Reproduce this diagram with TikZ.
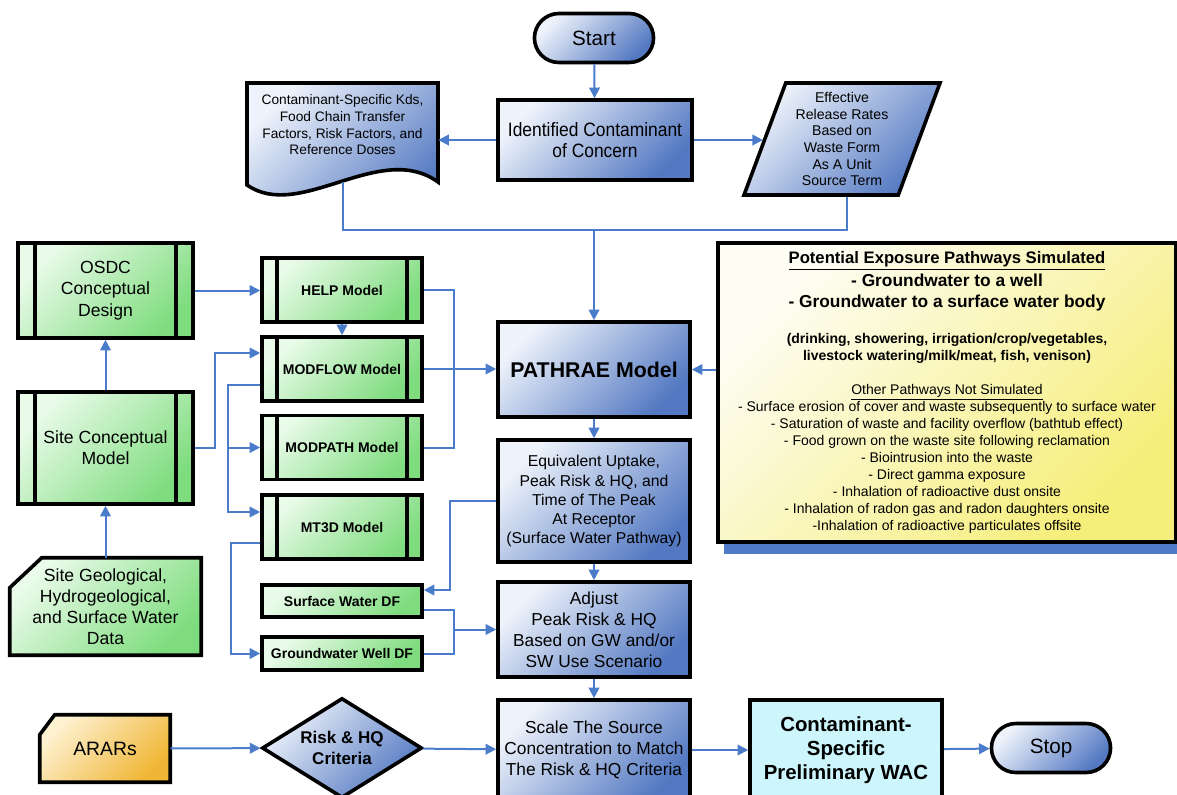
\documentclass[tikz,border=0pt]{standalone}
\usepackage{fontspec}
\setmainfont{Liberation Sans}
\newfontfamily\narrowfont[FakeStretch=0.9]{Liberation Sans}
\usetikzlibrary{arrows.meta,shapes.geometric,shapes.misc,backgrounds}

\definecolor{lineblue}{HTML}{4A7CC9}
\definecolor{blueL}{HTML}{EEF3FB}
\definecolor{blueD}{HTML}{5479C2}
\definecolor{greenL}{HTML}{EAFBEA}
\definecolor{greenD}{HTML}{7EDC7E}
\definecolor{yellowL}{HTML}{FDFDF4}
\definecolor{yellowD}{HTML}{F6EE7A}
\definecolor{orangeL}{HTML}{FDF2D2}
\definecolor{orangeD}{HTML}{F0B535}
\definecolor{wacfill}{HTML}{CCF6FB}
\definecolor{shadowblue}{HTML}{4F7BC8}

\tikzset{
  outline/.style={draw=black,line width=2.7pt},
  bluebox/.style={outline,top color=blueL,bottom color=blueD,shading angle=45},
  greenbox/.style={outline,top color=greenL,bottom color=greenD,shading angle=45},
  procbox/.style={greenbox,rectangle,inner sep=2pt,align=center,
    path picture={
      \draw[line width=2.5pt] ([xshift=#1]path picture bounding box.north west) -- ([xshift=#1]path picture bounding box.south west);
      \draw[line width=2.5pt] ([xshift=-#1]path picture bounding box.north east) -- ([xshift=-#1]path picture bounding box.south east);}},
  procbox/.default=12pt,
  modelbox/.style={procbox=11.25pt,minimum width=120pt,minimum height=48pt,font=\fontsize{10.5}{12.6}\selectfont\bfseries},
  dfbox/.style={greenbox,minimum width=120pt,inner sep=1pt,font=\fontsize{10.5}{12.6}\selectfont\bfseries},
  midbox/.style={bluebox,minimum width=144pt,inner sep=2pt,align=center},
  term/.style={rounded rectangle,bluebox,minimum width=96pt,minimum height=36.75pt,font=\fontsize{15.5}{18}\selectfont},
  conn/.style={draw=lineblue,line width=1.5pt},
  arr/.style={conn,-{Triangle[length=8pt,width=8pt]}}
}

\begin{document}
\begin{tikzpicture}[x=0.75pt,y=-0.75pt]
  \useasboundingbox (0,0) rectangle (1177,794);

  \node[term] (start) at (594,38) {Start};
  \node[bluebox,minimum width=145.5pt,minimum height=60pt,align=center,font={\fontsize{14.5}{15.75}\narrowfont}] (coc) at (595,140) {Identified Contaminant\\of Concern};
  \node[align=center,minimum width=143.25pt,minimum height=63pt,font=\fontsize{10.3}{12.5}\selectfont] (kds) at (342.5,125) {Contaminant-Specific Kds,\\Food Chain Transfer\\Factors, Risk Factors, and\\Reference Doses};
  \node[trapezium,trapezium left angle=66,trapezium right angle=114,trapezium stretches body,bluebox,minimum width=147pt,minimum height=84pt,inner sep=0pt,align=center,font=\fontsize{10.6}{12.5}\selectfont] (rates) at (842,139) {Effective\\Release Rates\\Based on\\Waste Form\\As A Unit\\Source Term};

  \node[procbox=12.75pt,minimum width=131.25pt,minimum height=71.25pt,font=\fontsize{13.2}{16}\selectfont] (osdc) at (105.5,290.5) {OSDC\\Conceptual\\Design};
  \node[procbox=12.75pt,minimum width=131.25pt,minimum height=84pt,font=\fontsize{13.2}{16}\selectfont] (scm) at (105.5,448) {Site Conceptual\\Model};
  \node[align=center,minimum width=143.25pt,minimum height=72.75pt,font=\fontsize{13.2}{15.75}\selectfont] (geo) at (105.5,606.5) {Site Geological,\\Hydrogeological,\\and Surface Water\\Data};

  \node[modelbox] (help) at (342,290) {HELP Model};
  \node[modelbox] (modflow) at (342,369) {MODFLOW Model};
  \node[modelbox] (modpath) at (342,447.5) {MODPATH Model};
  \node[modelbox] (mt3d) at (342,527) {MT3D Model};
  \node[dfbox,minimum height=24pt] (swdf) at (342,601) {Surface Water DF};
  \node[dfbox,minimum height=24.75pt] (gwdf) at (342,653.5) {Groundwater Well DF};

  \node[midbox,minimum height=71.25pt,font=\fontsize{16}{19}\selectfont\bfseries] (pathrae) at (594,369.5) {PATHRAE Model};
  \node[midbox,minimum height=91.5pt,font=\fontsize{11.8}{14.3}\selectfont] (equiv) at (594,501) {Equivalent Uptake,\\Peak Risk \& HQ, and\\Time of The Peak\\At Receptor\\(Surface Water Pathway)};
  \node[midbox,minimum height=71.25pt,font=\fontsize{13}{15.8}\selectfont] (adjust) at (594,629.5) {Adjust\\Peak Risk \& HQ\\Based on GW and/or\\SW Use Scenario};
  \node[midbox,minimum height=75pt,font=\fontsize{13}{15.5}\selectfont] (scale) at (594,750) {Scale The Source\\Concentration to Match\\The Risk \& HQ Criteria};

  \node[outline,top color=yellowL,bottom color=yellowD,shading angle=45,minimum width=343.5pt,minimum height=224.25pt,align=center,font=\fontsize{10.5}{12.7}\selectfont] (pathways) at (947,392.5) {%
    {\fontsize{12.5}{15}\selectfont\bfseries\underline{Potential Exposure Pathways Simulated}}\\[2.3pt]
    {\fontsize{13}{15}\selectfont\bfseries - Groundwater to a well}\\[3pt]
    {\fontsize{13}{15}\selectfont\bfseries - Groundwater to a surface water body}\\[14.3pt]
    {\bfseries (drinking, showering, irrigation/crop/vegetables,}\\
    {\bfseries livestock watering/milk/meat, fish, venison)}\\[12.8pt]
    \underline{Other Pathways Not Simulated}\\
    - Surface erosion of cover and waste subsequently to surface water\\
    - Saturation of waste and facility overflow (bathtub effect)\\
    - Food grown on the waste site following reclamation\\
    - Biointrusion into the waste\\
    - Direct gamma exposure\\
    - Inhalation of radioactive dust onsite\\
    - Inhalation of radon gas and radon daughters onsite\\
    -Inhalation of radioactive particulates offsite};

  \node[align=center,minimum width=97.5pt,minimum height=50.25pt,font=\fontsize{14.5}{17}\selectfont] (arars) at (105,748.5) {ARARs};
  \node[diamond,aspect=1.6,bluebox,minimum width=120pt,minimum height=75pt,inner sep=0pt,align=center,font=\fontsize{12.75}{16}\selectfont\bfseries] (crit) at (342,748) {Risk \& HQ\\Criteria};
  \node[outline,fill=wacfill,minimum width=144pt,minimum height=75pt,align=center,font=\fontsize{15.3}{18}\selectfont\bfseries] (wac) at (846,750) {Contaminant-\\Specific\\Preliminary WAC};
  \node[term] (stop) at (1051,748) {Stop};

  \begin{scope}[on background layer]
    \fill[shadowblue] ([xshift=6pt,yshift=-7.5pt]pathways.south west) rectangle ([xshift=6pt,yshift=-7.5pt]pathways.north east);
    \path[bluebox] (247,83) -- (247,185) .. controls (300,222) and (380,140) .. (438,182) -- (438,83) -- cycle;
    \path[greenbox] ([yshift=-22.5pt]geo.north west) -- ([xshift=24pt]geo.north west) -- (geo.north east) -- (geo.south east) -- (geo.south west) -- cycle;
    \path[outline,top color=orangeL,bottom color=orangeD,shading angle=45] ([yshift=-15pt]arars.north west) -- ([xshift=11.25pt]arars.north west) -- (arars.north east) -- (arars.south east) -- (arars.south west) -- cycle;
  \end{scope}

  \coordinate (kdsfoot) at (343,182);
  \coordinate (merge) at (594,230);

  \draw[arr] (start) -- (coc);
  \draw[arr] (coc.west) -- (coc.west -| kds.east);
  \draw[arr] (coc.east) -- (coc.east -| rates.west);
  \draw[conn] (kdsfoot) |- (merge) -| ([xshift=3.75pt]rates.south);
  \draw[arr] (merge) -- (pathrae);

  \draw[arr] (geo) -- (scm);
  \draw[arr] (scm) -- (osdc);
  \draw[arr] (osdc.east) -- (osdc.east -| help.west);
  \draw[arr] (help) -- (modflow);
  \draw[arr] (scm.east) -- ++(20,0) |- ([yshift=12pt]modflow.west);
  \draw[arr] ([yshift=-12pt]modflow.west) -- ++(-32,0) |- (modpath.west);
  \draw[arr] ([yshift=-12pt]modflow.west) -- ++(-32,0) |- ([yshift=11.25pt]mt3d.west);
  \draw[arr] ([yshift=-12pt]mt3d.west) -- ++(-29,0) |- (gwdf.west);

  \draw[conn] (help.east) -- ++(30,0) |- (modpath.east);
  \draw[arr] (modflow.east) -- (modflow.east -| pathrae.west);
  \draw[arr] (pathways.west |- pathrae.east) -- (pathrae.east);
  \draw[arr] (equiv.west) -- ++(-46,0) |- ([yshift=8.25pt]swdf.east);
  \draw[conn] ([yshift=-6.75pt]swdf.east) -- ++(30,0) |- (gwdf.east);
  \draw[arr] ([yshift=-6.75pt]swdf.east) -- ++(30,0) |- (adjust.west);

  \draw[arr] (pathrae) -- (equiv);
  \draw[arr] (equiv) -- (adjust);
  \draw[arr] (adjust) -- (scale);
  \draw[arr] (arars) -- (crit);
  \draw[arr] (crit) -- (scale);
  \draw[arr] (scale) -- (wac);
  \draw[arr] (wac) -- (stop);
\end{tikzpicture}
\end{document}
